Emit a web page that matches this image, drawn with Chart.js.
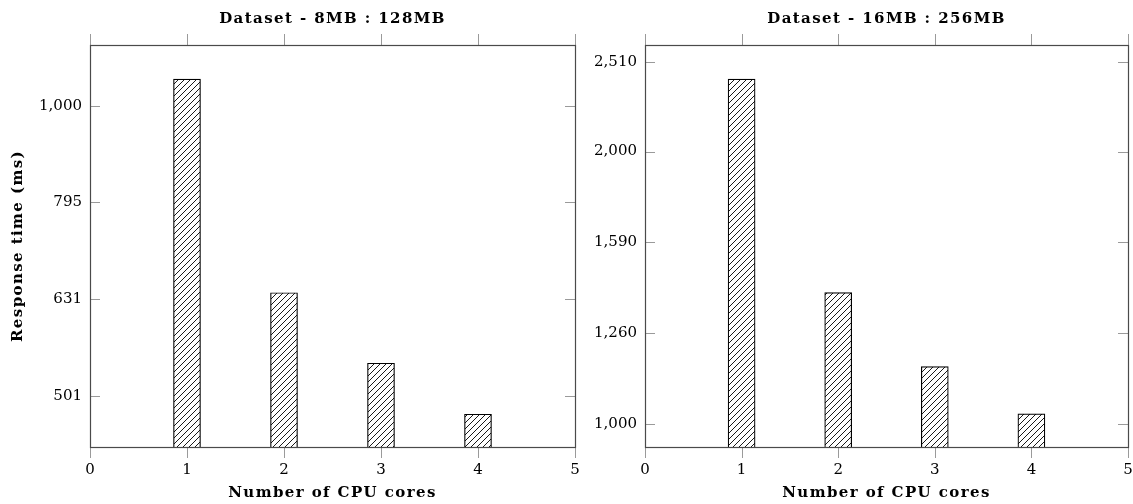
<!DOCTYPE html>
<html>
<head>
<meta charset="utf-8">
<script src="https://cdn.jsdelivr.net/npm/chart.js@4"></script>
<style>
  html, body { margin: 0; padding: 0; background: #fff; }
  body { width: 1133px; height: 504px; position: relative; overflow: hidden; }
  .panel { position: absolute; top: 0; }
</style>
</head>
<body>
<div class="panel" style="left:0px"><canvas id="c1" width="580" height="504"></canvas></div>
<div class="panel" style="left:580px"><canvas id="c2" width="553" height="504"></canvas></div>
<script>
// ---- data ----
const cores = [1, 2, 3, 4];
const timesSmall = [1066, 641, 542, 480];      // Dataset 8MB : 128MB
const timesLarge = [2405, 1397, 1157, 1026];   // Dataset 16MB : 256MB
const xTickValues = [0, 1, 2, 3, 4, 5];
const yTicksSmall = [501, 631, 795, 1000];
const yTicksLarge = [1000, 1260, 1590, 2000, 2510];
const yRangeSmall = [444, 1156];
const yRangeLarge = [943, 2623];
const titles = ['Dataset - 8MB : 128MB', 'Dataset - 16MB : 256MB'];
const xTitle = 'Number of CPU cores';
const yTitle = 'Response time (ms)';

const FONT = "'DejaVu Serif', serif";

function hatchPattern() {
  const s = 6;
  const c = document.createElement('canvas');
  c.width = s; c.height = s;
  const g = c.getContext('2d');
  g.fillStyle = '#fff';
  g.fillRect(0, 0, s, s);
  g.strokeStyle = '#000';
  g.lineWidth = 0.9;
  g.beginPath();
  g.moveTo(-1, s + 1); g.lineTo(s + 1, -1);
  g.moveTo(-1, 1); g.lineTo(1, -1);
  g.moveTo(s - 1, s + 1); g.lineTo(s + 1, s - 1);
  g.stroke();
  return g.createPattern(c, 'repeat');
}

const framePlugin = {
  id: 'frame',
  afterDatasetsDraw(chart) {
    const { ctx, chartArea: a, scales } = chart;
    ctx.save();
    ctx.strokeStyle = '#9a9a9a';
    ctx.lineWidth = 1;
    ctx.beginPath();
    scales.x.ticks.forEach(t => {
      const px = Math.round(scales.x.getPixelForValue(t.value)) + 0.5;
      ctx.moveTo(px, a.top); ctx.lineTo(px, a.top - 11);
      ctx.moveTo(px, a.bottom); ctx.lineTo(px, a.bottom + 11);
    });
    scales.y.ticks.forEach(t => {
      const py = Math.round(scales.y.getPixelForValue(t.value)) + 0.5;
      ctx.moveTo(a.left, py); ctx.lineTo(a.left + 10, py);
      ctx.moveTo(a.right, py); ctx.lineTo(a.right - 10, py);
    });
    ctx.stroke();
    ctx.strokeStyle = '#4a4a4a';
    ctx.lineWidth = 1.2;
    ctx.strokeRect(Math.round(a.left) + 0.5, Math.round(a.top) + 0.5,
                   Math.round(a.right - a.left), Math.round(a.bottom - a.top));
    ctx.restore();
  }
};

const textPlugin = {
  id: 'texts',
  afterDraw(chart, args, opts) {
    const { ctx, chartArea: a } = chart;
    ctx.save();
    ctx.letterSpacing = '1.4px';
    ctx.font = 'bold 15px ' + FONT;
    ctx.fillStyle = '#000';
    ctx.textAlign = 'center';
    ctx.textBaseline = 'alphabetic';
    const cx = (a.left + a.right) / 2;
    ctx.fillText(opts.title, cx, 23);
    ctx.fillText(xTitle, cx, 497);
    if (opts.showY) {
      ctx.translate(21.5, (a.top + a.bottom) / 2);
      ctx.rotate(-Math.PI / 2);
      ctx.fillText(yTitle, 0, 0);
    }
    ctx.restore();
  }
};

function makeChart(id, values, yTicks, yRange, title, showYTitle, yWidth) {
  const ctx = document.getElementById(id).getContext('2d');
  return new Chart(ctx, {
    type: 'bar',
    data: {
      datasets: [{
        data: cores.map((c, i) => ({ x: c, y: values[i] })),
        backgroundColor: hatchPattern(),
        borderColor: '#000',
        borderWidth: 1.2,
        barThickness: 27
      }]
    },
    options: {
      responsive: false,
      animation: false,
      devicePixelRatio: 1,
      layout: { padding: { left: 0, right: 5, top: 45, bottom: 0 } },
      plugins: {
        legend: { display: false },
        tooltip: { enabled: false },
        title: { display: false },
        texts: { title: title, showY: showYTitle }
      },
      scales: {
        x: {
          type: 'linear',
          offset: false,
          min: 0, max: 5,
          afterBuildTicks: s => { s.ticks = xTickValues.map(v => ({ value: v })); },
          afterFit: s => { s.height = 57; s.paddingLeft = 0; s.paddingRight = 0; },
          grid: { display: false, drawTicks: false },
          border: { display: false },
          ticks: { color: '#000', font: { family: FONT, size: 15 }, padding: 14 }
        },
        y: {
          type: 'logarithmic',
          min: yRange[0], max: yRange[1],
          afterBuildTicks: s => { s.ticks = yTicks.map(v => ({ value: v })); },
          afterFit: s => { s.width = yWidth; s.paddingTop = 0; s.paddingBottom = 0; },
          grid: { display: false, drawTicks: false },
          border: { display: false },
          ticks: {
            color: '#000', font: { family: FONT, size: 15 }, padding: 8,
            callback: v => Number(v).toLocaleString('en-US')
          }
        }
      }
    },
    plugins: [framePlugin, textPlugin]
  });
}

makeChart('c1', timesSmall, yTicksSmall, yRangeSmall, titles[0], true, 90);
makeChart('c2', timesLarge, yTicksLarge, yRangeLarge, titles[1], false, 65);
</script>
</body>
</html>
